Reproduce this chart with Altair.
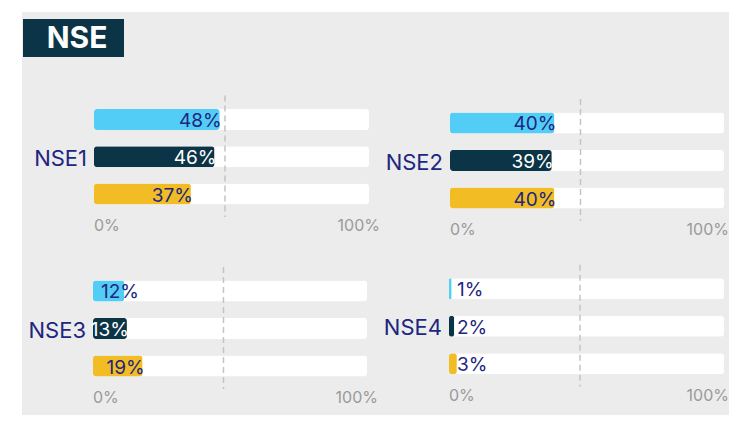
import altair as alt
import pandas as pd

# ---------------- data ----------------
title_text = "NSE"
groups = ["NSE1", "NSE2", "NSE3", "NSE4"]
series = ["A", "B", "C"]
values_nse1 = [48, 46, 37]
values_nse2 = [40, 39, 40]
values_nse3 = [12, 13, 19]
values_nse4 = [1, 2, 3]
axis_labels = ["0%", "100%"]
reference_line = [50]

# ---------------- style ----------------
colors = ["#52cdf5", "#0b3547", "#f2bd24"]
NAVY = "#1d2680"
DARK = "#0b3547"
GRAY_BG = "#ececec"
AXIS_GRAY = "#9a9a9a"
FONT = "Inter"
TRACK_MAX = 105
W, H = 721, 407

panel_values = dict(zip(groups, [values_nse1, values_nse2, values_nse3, values_nse4]))

# scale ranges (px) for each panel: x0, x1, y0, y1, dx of the "100%" label
layout = {
    "NSE1": (86, 361, 92.8, 204.7, 11),
    "NSE2": (442, 716, 96.2, 208.8, 5),
    "NSE3": (85, 359, 264.2, 376.8, 11),
    "NSE4": (441, 716, 262.0, 374.5, 5),
}

one = pd.DataFrame({"t": [title_text]})

background = alt.Chart(one).mark_rect(color=GRAY_BG).encode(
    x=alt.value(14), x2=alt.value(W), y=alt.value(4), y2=alt.value(H)
)
title_box = alt.Chart(one).mark_rect(color=DARK).encode(
    x=alt.value(15), x2=alt.value(116), y=alt.value(11), y2=alt.value(49)
)
title_txt = alt.Chart(one).mark_text(
    font=FONT, fontSize=30, fontWeight="bold", color="white", align="center", baseline="middle"
).encode(x=alt.value(69), y=alt.value(31), text="t:N")

layers = [background, title_box, title_txt]


def panel(g):
    vals = panel_values[g]
    df = pd.DataFrame({
        "series": series,
        "value": vals,
        "track": [TRACK_MAX] * len(series),
        "label": [f"{v}%" for v in vals],
    })
    x0, x1, y0, y1, rdx = layout[g]
    xs = alt.Scale(domain=[0, TRACK_MAX], range=[x0, x1], zero=True, nice=False)
    ys = alt.Scale(domain=series, range=[y0, y1], paddingInner=0.44, paddingOuter=0.22)
    Y = alt.Y("series:N", scale=ys, axis=None)
    base = alt.Chart(df)

    track = base.mark_bar(color="white", cornerRadius=3).encode(
        x=alt.X("track:Q", scale=xs, axis=None), y=Y
    )
    bars = base.mark_bar(cornerRadius=3).encode(
        x=alt.X("value:Q", scale=xs, axis=None), y=Y,
        color=alt.Color("series:N", scale=alt.Scale(domain=series, range=colors), legend=None),
    )
    ref = pd.DataFrame({"ref": reference_line, "top": ["A"], "bottom": ["C"]})
    rule = alt.Chart(ref).mark_rule(
        color="#c4c4c4", strokeWidth=1.5, strokeDash=[6, 4], yOffset=-24, y2Offset=23
    ).encode(
        x=alt.X("ref:Q", scale=xs, axis=None),
        y=alt.Y("top:N", scale=ys, axis=None),
        y2="bottom:N",
    )
    inside = base.transform_filter(alt.datum.value >= 13).mark_text(
        font=FONT, fontSize=19, align="right", baseline="middle", dx=2, dy=1.5
    ).encode(
        x=alt.X("value:Q", scale=xs, axis=None), y=Y, text="label:N",
        color=alt.condition(alt.datum.series == "B", alt.value("white"), alt.value(NAVY)),
    )
    outside = base.transform_filter(alt.datum.value < 13).mark_text(
        font=FONT, fontSize=19, align="left", baseline="middle", dx=8, dy=1.5, color=NAVY
    ).encode(
        x=alt.X("zero:Q", scale=xs, axis=None), y=Y, text="label:N",
    ).transform_calculate(zero="0")
    cat = alt.Chart(pd.DataFrame({"g": [g], "series": ["B"], "zero": [0]})).mark_text(
        font=FONT, fontSize=22, align="right", baseline="middle", dx=-7, dy=2, color=NAVY
    ).encode(x=alt.X("zero:Q", scale=xs, axis=None), y=Y, text="g:N")
    ax = pd.DataFrame({"pos": [0, TRACK_MAX], "lab": axis_labels, "series": ["C", "C"]})
    ax_left = alt.Chart(ax).transform_filter(alt.datum.pos == 0).mark_text(
        font=FONT, fontSize=16, align="left", baseline="middle", dy=32, color=AXIS_GRAY
    ).encode(x=alt.X("pos:Q", scale=xs, axis=None), y=Y, text="lab:N")
    ax_right = alt.Chart(ax).transform_filter(alt.datum.pos > 0).mark_text(
        font=FONT, fontSize=16, align="right", baseline="middle", dx=rdx, dy=32, color=AXIS_GRAY
    ).encode(x=alt.X("pos:Q", scale=xs, axis=None), y=Y, text="lab:N")
    return [track, bars, rule, inside, outside, cat, ax_left, ax_right]


for g in groups:
    layers += panel(g)

chart = alt.layer(*layers).resolve_scale(
    x="independent", y="independent", color="independent"
).properties(
    width=W, height=H, padding=0, autosize=alt.AutoSizeParams(type="none"), background="white"
).configure_view(stroke=None)

chart.save("out.html", embed_options={"renderer": "svg", "actions": False})
